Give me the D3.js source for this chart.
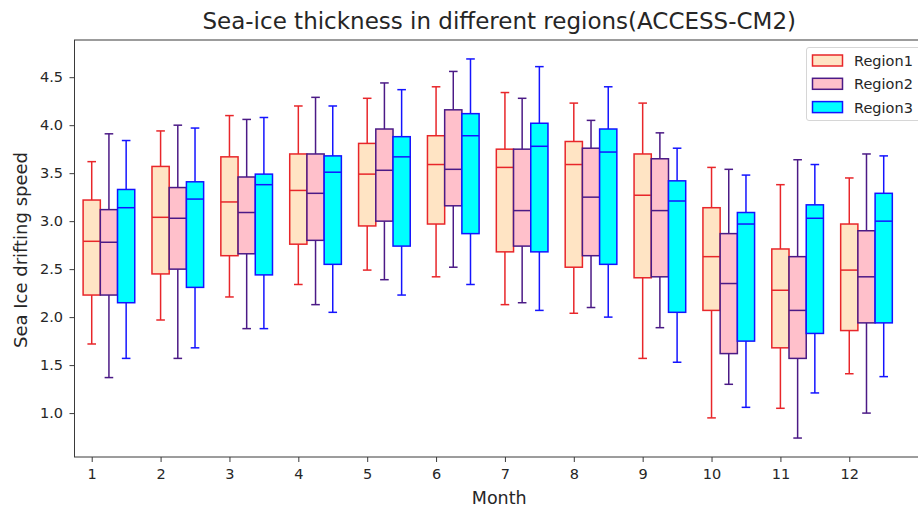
<!DOCTYPE html>
<html>
<head>
<meta charset="utf-8">
<script src="https://cdn.jsdelivr.net/npm/d3@7"></script>
<style>
  body { margin: 0; background: #fff; }
  svg { display: block; font-family: "DejaVu Sans", sans-serif; }
</style>
</head>
<body>
<svg id="chart" width="918" height="509"></svg>
<script>
// ---- data: [lower whisker, Q1, median, Q3, upper whisker] per month ----
const months = [1,2,3,4,5,6,7,8,9,10,11,12];
const regionNames = ["Region1", "Region2", "Region3"];
const region1 = [
  [1.72, 2.23, 2.79, 3.22, 3.62],
  [1.97, 2.45, 3.04, 3.57, 3.94],
  [2.21, 2.64, 3.20, 3.67, 4.10],
  [2.34, 2.76, 3.32, 3.70, 4.20],
  [2.49, 2.95, 3.49, 3.81, 4.28],
  [2.42, 2.97, 3.59, 3.89, 4.40],
  [2.13, 2.68, 3.56, 3.75, 4.34],
  [2.04, 2.52, 3.59, 3.83, 4.23],
  [1.57, 2.41, 3.27, 3.70, 4.23],
  [0.95, 2.07, 2.63, 3.14, 3.56],
  [1.05, 1.68, 2.28, 2.71, 3.38],
  [1.41, 1.86, 2.49, 2.97, 3.45]
];
const region2 = [
  [1.37, 2.23, 2.78, 3.12, 3.91],
  [1.57, 2.50, 3.03, 3.35, 4.00],
  [1.88, 2.66, 3.09, 3.46, 4.06],
  [2.13, 2.80, 3.29, 3.70, 4.29],
  [2.39, 3.00, 3.53, 3.96, 4.44],
  [2.52, 3.16, 3.54, 4.16, 4.56],
  [2.15, 2.74, 3.11, 3.75, 4.28],
  [2.10, 2.64, 3.25, 3.76, 4.05],
  [1.89, 2.42, 3.11, 3.65, 3.92],
  [1.30, 1.62, 2.35, 2.87, 3.54],
  [0.74, 1.57, 2.07, 2.63, 3.64],
  [1.00, 1.94, 2.42, 2.90, 3.70]
];
const region3 = [
  [1.57, 2.15, 3.14, 3.33, 3.84],
  [1.68, 2.31, 3.23, 3.41, 3.97],
  [1.88, 2.44, 3.38, 3.49, 4.08],
  [2.05, 2.55, 3.51, 3.68, 4.20],
  [2.23, 2.74, 3.67, 3.88, 4.37],
  [2.34, 2.87, 3.89, 4.12, 4.69],
  [2.07, 2.68, 3.78, 4.02, 4.61],
  [2.00, 2.55, 3.72, 3.96, 4.40],
  [1.53, 2.05, 3.21, 3.42, 3.76],
  [1.06, 1.75, 2.97, 3.09, 3.48],
  [1.21, 1.83, 3.03, 3.17, 3.59],
  [1.38, 1.94, 3.00, 3.29, 3.68]
];
const yTicks = [1.0, 1.5, 2.0, 2.5, 3.0, 3.5, 4.0, 4.5];
const fillColors = ["bisque", "pink", "cyan"];
const edgeColors = ["#e8262a", "#4b1a86", "#1414ff"];
const offsets = [0, 0.25, 0.5];
const boxWidth = 0.25;

// ---- layout ----
const svg = d3.select("#chart");
const plot = { left: 74.5, top: 40, right: 924, bottom: 457 };

const allVals = [region1, region2, region3].flat(2);
const ymin = d3.min(allVals), ymax = d3.max(allVals);
const pad = (ymax - ymin) * 0.05;

const x = d3.scaleLinear().domain([0.75, 13.085]).range([plot.left, plot.right]);
const y = d3.scaleLinear().domain([ymin - pad, ymax + pad]).range([plot.bottom, plot.top]);

// ---- boxes ----
const regions = [region1, region2, region3];
const g = svg.append("g");
regions.forEach((reg, ri) => {
  const gg = g.append("g").attr("class", "region" + (ri + 1));
  reg.forEach((s, mi) => {
    const c = months[mi] + offsets[ri];
    const x0 = x(c - boxWidth / 2), x1 = x(c + boxWidth / 2);
    const cx = x(c);
    const capHalf = (x1 - x0) / 4;
    const col = edgeColors[ri];
    gg.append("line").attr("x1", cx).attr("x2", cx).attr("y1", y(s[0])).attr("y2", y(s[1]))
      .attr("stroke", col).attr("stroke-width", 1.5);
    gg.append("line").attr("x1", cx).attr("x2", cx).attr("y1", y(s[3])).attr("y2", y(s[4]))
      .attr("stroke", col).attr("stroke-width", 1.5);
    [s[0], s[4]].forEach(v => {
      gg.append("line").attr("x1", cx - capHalf).attr("x2", cx + capHalf)
        .attr("y1", y(v)).attr("y2", y(v)).attr("stroke", col).attr("stroke-width", 1.5);
    });
    gg.append("rect").attr("x", x0).attr("y", y(s[3])).attr("width", x1 - x0)
      .attr("height", y(s[1]) - y(s[3])).attr("fill", fillColors[ri])
      .attr("stroke", col).attr("stroke-width", 1.5);
    gg.append("line").attr("x1", x0).attr("x2", x1).attr("y1", y(s[2])).attr("y2", y(s[2]))
      .attr("stroke", col).attr("stroke-width", 1.5);
  });
});

// ---- frame ----
svg.append("rect").attr("x", plot.left).attr("y", plot.top)
  .attr("width", plot.right - plot.left).attr("height", plot.bottom - plot.top)
  .attr("fill", "none").attr("stroke", "#3a3a3a").attr("stroke-width", 1);

// ---- axes ----
const xAxis = d3.axisBottom(x).tickValues(months).tickFormat(d3.format("d"))
  .tickSize(5).tickPadding(6.5);
const xg = svg.append("g").attr("transform", `translate(0,${plot.bottom})`).call(xAxis);
const yAxis = d3.axisLeft(y).tickValues(yTicks).tickFormat(d3.format(".1f"))
  .tickSize(5).tickPadding(6.5);
const yg = svg.append("g").attr("transform", `translate(${plot.left},0)`).call(yAxis);
[xg, yg].forEach(a => {
  a.select(".domain").remove();
  a.selectAll(".tick line").attr("stroke", "#3a3a3a").attr("stroke-width", 1);
  a.selectAll(".tick text").attr("fill", "#262626")
    .style("font-family", "'DejaVu Sans', sans-serif").style("font-size", "14.5px");
});

// ---- titles ----
svg.append("text").attr("x", (plot.left + plot.right) / 2).attr("y", 29)
  .attr("text-anchor", "middle").attr("fill", "#262626")
  .style("font-size", "23px").text("Sea-ice thickness in different regions(ACCESS-CM2)");
svg.append("text").attr("x", (plot.left + plot.right) / 2).attr("y", 504)
  .attr("text-anchor", "middle").attr("fill", "#262626")
  .style("font-size", "17.5px").text("Month");
svg.append("text").attr("transform", "translate(27,250) rotate(-90)")
  .attr("text-anchor", "middle").attr("fill", "#262626")
  .style("font-size", "18px").text("Sea Ice drifting speed");

// ---- legend ----
const lg = svg.append("g");
lg.append("rect").attr("x", 806.5).attr("y", 47.5).attr("width", 120).attr("height", 73)
  .attr("rx", 2.5).attr("fill", "white").attr("fill-opacity", 0.8)
  .attr("stroke", "#d6d6d6").attr("stroke-width", 1);
regionNames.forEach((name, i) => {
  const cy = 60.5 + i * 23.3;
  lg.append("rect").attr("x", 812.5).attr("y", cy - 5.5).attr("width", 30).attr("height", 11)
    .attr("fill", fillColors[i]).attr("stroke", edgeColors[i]).attr("stroke-width", 1.5);
  lg.append("text").attr("x", 854).attr("y", cy + 5.5).attr("fill", "#262626")
    .style("font-size", "14.5px").text(name);
});
</script>
</body>
</html>
